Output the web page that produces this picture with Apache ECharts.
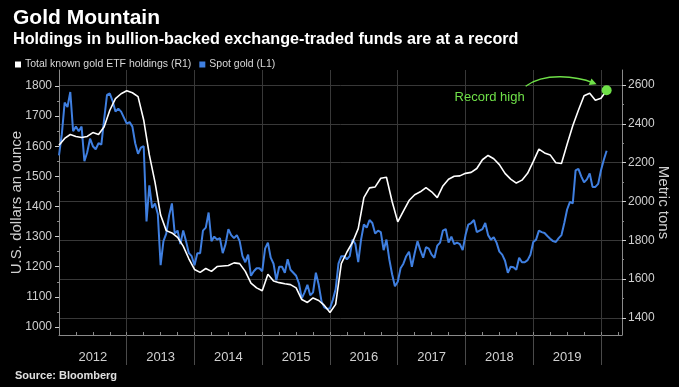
<!DOCTYPE html>
<html>
<head>
<meta charset="utf-8">
<script src="https://cdn.jsdelivr.net/npm/echarts@6/dist/echarts.min.js"></script>
<style>
html,body{margin:0;padding:0;background:#000;}
#c{width:679px;height:387px;}
</style>
</head>
<body>
<div id="c"></div>
<script>
// Spot gold, USD/oz, sampled on the 1st and 15th of each month, Jan 2012 - Feb 2020
var goldStart = 2012;
var goldPerYear = 24;
var goldValues = [
 1570,1640,1745,1730,1780,1650,1665,1650,1665,1550,1580,1625,1600,1590,1610,1605,1690,1770,1775,1750,1715,1725,1715,1695,
 1675,1680,1665,1610,1575,1595,1600,1350,1470,1395,1410,1375,1205,1285,1310,1370,1410,1310,1320,1275,1320,1285,1245,1235,
 1205,1245,1245,1320,1330,1380,1285,1300,1290,1295,1245,1275,1325,1305,1295,1305,1285,1235,1215,1240,1170,1185,1195,1195,
 1185,1260,1280,1230,1210,1155,1200,1200,1180,1225,1190,1180,1170,1145,1095,1115,1140,1105,1115,1180,1140,1085,1065,1060,
 1062,1090,1125,1210,1235,1235,1225,1235,1290,1275,1215,1290,1340,1330,1355,1345,1310,1320,1315,1255,1290,1225,1175,1135,
 1150,1195,1210,1235,1250,1200,1245,1285,1255,1230,1265,1260,1240,1230,1270,1280,1320,1325,1280,1300,1275,1280,1275,1255,
 1305,1340,1345,1355,1315,1320,1325,1345,1305,1290,1298,1280,1250,1240,1220,1180,1200,1198,1190,1230,1215,1215,1222,1240,
 1282,1290,1320,1315,1312,1302,1293,1285,1282,1295,1305,1345,1390,1415,1410,1520,1525,1500,1480,1490,1510,1465,1465,1475,
 1520,1555,1585
];
// Total known gold ETF holdings, metric tons, 1st of each month, Jan 2012 - Feb 2020
var etfStart = 2012;
var etfPerYear = 12;
var etfValues = [
 2290,2325,2345,2335,2330,2335,2355,2345,2385,2470,2530,2555,
 2570,2560,2540,2420,2240,2100,1930,1850,1838,1815,1770,1705,
 1650,1635,1655,1640,1665,1668,1670,1684,1680,1640,1580,1555,
 1540,1625,1590,1582,1576,1572,1555,1495,1480,1503,1490,1465,
 1428,1470,1680,1740,1790,1860,2020,2070,2075,2120,2125,2000,
 1895,1950,2005,2035,2050,2072,2050,2020,2080,2115,2130,2132,
 2145,2150,2170,2215,2237,2220,2190,2145,2115,2095,2110,2145,
 2205,2270,2250,2240,2200,2196,2295,2390,2470,2545,2558,2522,
 2532,2573
];
var yearLabels = [2012,2013,2014,2015,2016,2017,2018,2019];
var leftTicks = [1000,1100,1200,1300,1400,1500,1600,1700,1800];
var rightTicks = [1400,1600,1800,2000,2200,2400,2600];

var goldData = goldValues.map(function(v,i){return [goldStart + i/goldPerYear, v];});
var etfData = etfValues.map(function(v,i){return [etfStart + i/etfPerYear, v];});
var yearCenters = yearLabels.map(function(y){return y + 0.5;});
var yearBounds = yearLabels.map(function(y){return y + 1;});
var quarters = [];
for (var y = 2012; y <= 2020; y++) { [0.25,0.5,0.75,1].forEach(function(q){ if (y+q < 2020.3) quarters.push(y+q); }); }
var leftMinor = leftTicks.slice(0,-1).map(function(v){return v+50;});
var rightMinor = rightTicks.slice(0,-1).map(function(v){return v+100;});

var XMIN = 2012, XMAX = 2020.31;
var LMIN = 973.4, LMAX = 1853;
var RMIN = 1312.4, RMAX = 2677.3;
var FONT = 'Liberation Sans, Arial, sans-serif';
var AX = '#8a8a8a', GRID = '#383838', TXT = '#d0d0d0';
function plain(v){ return String(v); }

var chart = echarts.init(document.getElementById('c'), null, {renderer:'canvas'});
var option = {
  backgroundColor: '#000',
  animation: false,
  textStyle: {fontFamily: FONT},
  title: [
    {text:'Gold Mountain', left:8, top:3, textStyle:{color:'#fff', fontSize:21, fontWeight:'bold', fontFamily:FONT}},
    {text:'Holdings in bullion-backed exchange-traded funds are at a record', left:8, top:27, textStyle:{color:'#fff', fontSize:16.2, fontWeight:'bold', fontFamily:FONT}},
    {text:'Source: Bloomberg', left:10, top:365, textStyle:{color:'#e0e0e0', fontSize:11, fontWeight:'bold', fontFamily:FONT}}
  ],
  legend: {
    left: 10, top: 54, icon: 'rect', itemWidth: 6, itemHeight: 6, itemGap: 8,
    textStyle: {color:'#d8d8d8', fontSize:10.5, fontFamily:FONT, padding:[0,0,0,-1]},
    data: ['Total known gold ETF holdings (R1)', 'Spot gold (L1)']
  },
  grid: {left:59, right:57, top:70, bottom:52, containLabel:false, outerBoundsMode:'none'},
  xAxis: [
    {type:'value', min:XMIN, max:XMAX, position:'bottom',
     axisLine:{show:true, lineStyle:{color:AX, width:1}},
     axisTick:{show:true, customValues:yearBounds, length:30, inside:false, lineStyle:{color:'#4a4a4a'}},
     axisLabel:{show:true, customValues:yearCenters, formatter:function(v){return String(Math.floor(v));}, color:TXT, fontSize:13, margin:16, fontFamily:FONT},
     splitLine:{show:true, lineStyle:{color:GRID, width:1}}},
    {type:'value', min:XMIN, max:XMAX, position:'bottom',
     axisLine:{show:false},
     axisTick:{show:true, customValues:quarters, length:3, inside:true, lineStyle:{color:AX}},
     axisLabel:{show:false}, splitLine:{show:false}}
  ],
  yAxis: [
    {type:'value', min:LMIN, max:LMAX, position:'left',
     name:'U.S. dollars an ounce', nameLocation:'middle', nameGap:35, nameRotate:90, nameMoveOverlap:false,
     nameTextStyle:{color:TXT, fontSize:15, fontFamily:FONT},
     axisLine:{show:true, lineStyle:{color:AX}},
     axisTick:{show:true, customValues:leftTicks, length:4, lineStyle:{color:'#cfcfcf'}},
     axisLabel:{customValues:leftTicks, formatter:plain, color:TXT, fontSize:12, margin:7, fontFamily:FONT},
     splitLine:{show:false}},
    {type:'value', min:RMIN, max:RMAX, position:'right',
     name:'Metric tons', nameLocation:'middle', nameGap:34, nameRotate:-90, nameMoveOverlap:false,
     nameTextStyle:{color:TXT, fontSize:15, fontFamily:FONT},
     axisLine:{show:true, lineStyle:{color:AX}},
     axisTick:{show:true, customValues:rightTicks, length:4, lineStyle:{color:'#cfcfcf'}},
     axisLabel:{customValues:rightTicks, formatter:plain, color:TXT, fontSize:12, margin:6, fontFamily:FONT},
     splitLine:{show:true, lineStyle:{color:GRID, width:1}}},
    {type:'value', min:LMIN, max:LMAX, position:'left',
     axisLine:{show:false}, axisTick:{show:true, customValues:leftMinor, length:2, lineStyle:{color:AX}},
     axisLabel:{show:false}, splitLine:{show:false}},
    {type:'value', min:RMIN, max:RMAX, position:'right',
     axisLine:{show:false}, axisTick:{show:true, customValues:rightMinor, length:2, lineStyle:{color:AX}},
     axisLabel:{show:false}, splitLine:{show:false}}
  ],
  series: [
    {name:'Spot gold (L1)', type:'line', xAxisIndex:0, yAxisIndex:0, data:goldData,
     showSymbol:false, symbol:'none', lineStyle:{color:'#3f7fe0', width:2}, itemStyle:{color:'#3f7fe0'}, z:2},
    {name:'Total known gold ETF holdings (R1)', type:'line', xAxisIndex:0, yAxisIndex:1, data:etfData,
     showSymbol:false, symbol:'none', lineStyle:{color:'#ffffff', width:1.6}, itemStyle:{color:'#ffffff'}, z:3,
     markPoint:{symbol:'circle', symbolSize:10, silent:true, label:{show:false},
       itemStyle:{color:'#6fe048'},
       data:[{coord: etfData[etfData.length-1]}]}}
  ]
};
chart.setOption(option);

var last = etfData[etfData.length-1];
var p = chart.convertToPixel({xAxisIndex:0, yAxisIndex:1}, last);
var GREEN = '#6fe048';
var x1 = p[0]-81, y1 = p[1]-4;
var c1x = p[0]-62, c1y = p[1]-18;
var c2x = p[0]-30, c2y = p[1]-14;
var ex = p[0]-10, ey = p[1]-6;
var dx = ex - c2x, dy = ey - c2y, L = Math.sqrt(dx*dx+dy*dy); dx/=L; dy/=L;
var px = -dy, py = dx;
chart.setOption({
  graphic: [
    {type:'bezierCurve', silent:true, shape:{x1:x1,y1:y1,cpx1:c1x,cpy1:c1y,cpx2:c2x,cpy2:c2y,x2:ex-dx*3,y2:ey-dy*3},
     style:{stroke:GREEN, lineWidth:1.5, fill:null}, z:10},
    {type:'polygon', silent:true, shape:{points:[[ex,ey],[ex-dx*7+px*3.5,ey-dy*7+py*3.5],[ex-dx*7-px*3.5,ey-dy*7-py*3.5]]},
     style:{fill:GREEN}, z:10},
    {type:'text', silent:true, x:p[0]-117, y:p[1]+7,
     style:{text:'Record high', fill:GREEN, fontSize:13, fontFamily:FONT, align:'center', verticalAlign:'middle'}, z:10}
  ]
});
</script>
</body>
</html>
